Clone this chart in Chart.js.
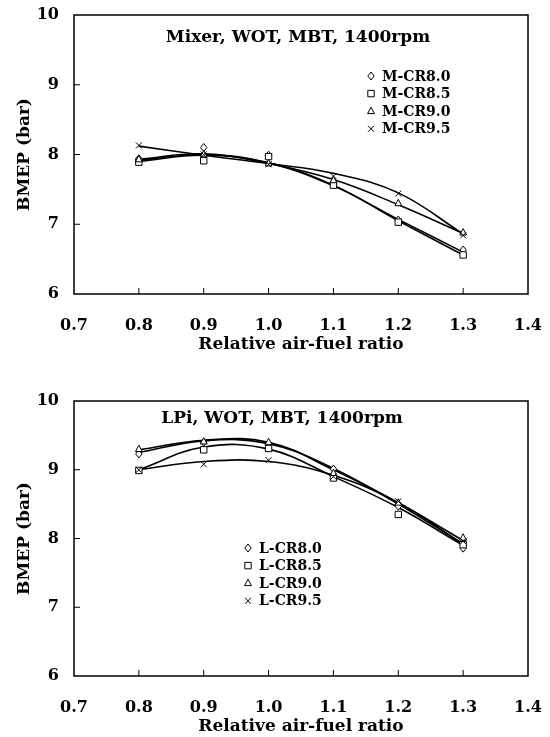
<!DOCTYPE html>
<html>
<head>
<meta charset="utf-8">
<script src="https://cdn.jsdelivr.net/npm/chart.js@4.4.0/dist/chart.umd.min.js"></script>
<style>
  html, body { margin: 0; padding: 0; background: #fff; }
  .box { position: relative; width: 550px; }
</style>
</head>
<body>
<div class="box" style="height:360px"><canvas id="grafico-mixer"></canvas></div>
<div class="box" style="height:377px"><canvas id="grafico-lpi"></canvas></div>
<script>
// eje x: relative air-fuel ratio
const lambda = [0.8, 0.9, 1.0, 1.1, 1.2, 1.3];
const xTicks = [0.7, 0.8, 0.9, 1.0, 1.1, 1.2, 1.3, 1.4];
const yTicks = [6, 7, 8, 9, 10];

// Mixer - puntos medidos
const mixerNombres = ["M-CR8.0", "M-CR8.5", "M-CR9.0", "M-CR9.5"];
const mCR80 = [7.94, 8.10, 7.99, 7.58, 7.06, 6.63];
const mCR85 = [7.89, 7.91, 7.97, 7.56, 7.03, 6.56];
const mCR90 = [7.93, 8.00, 7.87, 7.63, 7.30, 6.88];
const mCR95 = [8.13, 8.00, 7.86, 7.69, 7.44, 6.84];
// Mixer - curvas de tendencia
const mFit80 = [7.92, 8.00, 7.88, 7.55, 7.07, 6.60];
const mFit85 = [7.90, 7.99, 7.88, 7.56, 7.05, 6.56];
const mFit90 = [7.93, 8.01, 7.87, 7.64, 7.28, 6.87];
const mFit95 = [8.12, 7.99, 7.87, 7.73, 7.45, 6.86];

// LPi - puntos medidos
const lpiNombres = ["L-CR8.0", "L-CR8.5", "L-CR9.0", "L-CR9.5"];
const lCR80 = [9.23, 9.40, 9.37, 9.01, 8.47, 7.86];
const lCR85 = [8.99, 9.29, 9.31, 8.88, 8.35, 7.91];
const lCR90 = [9.30, 9.41, 9.40, 8.95, 8.52, 8.01];
const lCR95 = [9.00, 9.08, 9.14, 8.90, 8.54, 7.96];
// LPi - curvas de tendencia
const lFit80 = [9.25, 9.42, 9.38, 9.02, 8.50, 7.92];
const lFit85 = [9.00, 9.33, 9.30, 8.90, 8.45, 7.90];
const lFit90 = [9.29, 9.43, 9.40, 9.00, 8.52, 7.97];
const lFit95 = [9.00, 9.12, 9.12, 8.92, 8.52, 7.92];

const estilos = ["rectRot", "rect", "triangle", "crossRot"];
const FUENTE = "'DejaVu Serif', 'Liberation Serif', serif";

function puntos(ys) {
    return lambda.map((x, i) => ({ x: x, y: ys[i] }));
}

// dibuja un marcador hueco
function marcador(ctx, estilo, x, y, r) {
    ctx.save();
    ctx.strokeStyle = "#000";
    ctx.fillStyle = "#fff";
    ctx.lineWidth = 1;
    ctx.beginPath();
    if (estilo === "rectRot") {
        ctx.moveTo(x, y - r); ctx.lineTo(x + r * 0.8, y); ctx.lineTo(x, y + r); ctx.lineTo(x - r * 0.8, y); ctx.closePath();
        ctx.fill(); ctx.stroke();
    } else if (estilo === "rect") {
        ctx.rect(x - r * 0.8, y - r * 0.8, r * 1.6, r * 1.6);
        ctx.fill(); ctx.stroke();
    } else if (estilo === "triangle") {
        ctx.moveTo(x, y - r); ctx.lineTo(x + r * 0.85, y + r * 0.6); ctx.lineTo(x - r * 0.85, y + r * 0.6); ctx.closePath();
        ctx.fill(); ctx.stroke();
    } else {
        const d = r * 0.75;
        ctx.moveTo(x - d, y - d); ctx.lineTo(x + d, y + d);
        ctx.moveTo(x + d, y - d); ctx.lineTo(x - d, y + d);
        ctx.stroke();
    }
    ctx.restore();
}

// marco, marcas interiores, titulo y leyenda
const decorado = {
    id: "decorado",
    afterDatasetsDraw(chart, args, opts) {
        const { ctx, chartArea: a, scales } = chart;
        ctx.save();
        ctx.strokeStyle = "#000";
        ctx.lineWidth = 1.5;
        ctx.strokeRect(a.left, a.top, a.right - a.left, a.bottom - a.top);
        ctx.lineWidth = 1;
        ctx.beginPath();
        lambda.forEach(v => {
            const px = scales.x.getPixelForValue(v);
            ctx.moveTo(px, a.bottom); ctx.lineTo(px, a.bottom - 6);
        });
        yTicks.slice(1, -1).forEach(v => {
            const py = scales.y.getPixelForValue(v);
            ctx.moveTo(a.left, py); ctx.lineTo(a.left + 6, py);
        });
        ctx.stroke();

        ctx.fillStyle = "#000";
        ctx.font = "bold 17px " + FUENTE;
        ctx.textAlign = "center";
        ctx.textBaseline = "middle";
        ctx.fillText(opts.titulo, opts.tituloX, opts.tituloY);

        ctx.font = "bold 14px " + FUENTE;
        ctx.textAlign = "left";
        opts.nombres.forEach((n, i) => {
            const y = opts.leyendaY + i * 17.6;
            marcador(ctx, estilos[i], opts.leyendaX, y, 4);
            ctx.fillText(n, opts.leyendaX + 11, y + 1);
        });
        ctx.restore();
    }
};

function crearGrafico(id, nombres, medidos, curvas, deco, alto, arriba, pieTitulo) {
    const datasets = [];
    curvas.forEach(c => {
        datasets.push({
            data: puntos(c),
            showLine: true,
            borderColor: "#000",
            borderWidth: 1.6,
            pointRadius: 0,
            tension: 0.4
        });
    });
    medidos.forEach((m, i) => {
        datasets.push({
            label: nombres[i],
            data: puntos(m),
            showLine: false,
            pointStyle: false,
            pointRadius: 0
        });
    });

    const marcas = {
        id: "marcas",
        afterDatasetsDraw(chart) {
            const ctx = chart.ctx;
            medidos.forEach((m, i) => {
                const meta = chart.getDatasetMeta(curvas.length + i);
                meta.data.forEach(p => marcador(ctx, estilos[i], p.x, p.y, 4));
            });
        }
    };

    new Chart(document.getElementById(id), {
        type: "scatter",
        data: { datasets: datasets },
        options: {
            responsive: true,
            maintainAspectRatio: false,
            animation: false,
            layout: { padding: { left: 0, right: 22, top: arriba, bottom: 0 } },
            plugins: {
                legend: { display: false },
                tooltip: { enabled: false },
                decorado: Object.assign({ nombres: nombres }, deco)
            },
            scales: {
                x: {
                    type: "linear",
                    min: 0.7,
                    max: 1.4,
                    afterFit: s => { s.height = alto; s.paddingRight = 0; s.paddingLeft = 0; },
                    afterBuildTicks: s => { s.ticks = xTicks.map(v => ({ value: v })); },
                    grid: { display: false, drawTicks: false },
                    border: { display: false },
                    ticks: {
                        color: "#000",
                        padding: 22,
                        font: { family: FUENTE, size: 16, weight: "bold" },
                        callback: v => v.toFixed(1)
                    },
                    title: {
                        display: true,
                        text: "Relative air-fuel ratio",
                        color: "#000",
                        padding: { top: 0, bottom: pieTitulo },
                        font: { family: FUENTE, size: 17, weight: "bold" }
                    }
                },
                y: {
                    min: 6,
                    max: 10,
                    afterFit: s => { s.width = 74; s.paddingTop = 0; s.paddingBottom = 0; },
                    afterBuildTicks: s => { s.ticks = yTicks.map(v => ({ value: v })); },
                    grid: { display: false, drawTicks: false },
                    border: { display: false },
                    ticks: {
                        color: "#000",
                        padding: 15,
                        font: { family: FUENTE, size: 16, weight: "bold" }
                    },
                    title: {
                        display: true,
                        text: "BMEP (bar)",
                        color: "#000",
                        padding: { top: 14, bottom: 0 },
                        font: { family: FUENTE, size: 17, weight: "bold" }
                    }
                }
            }
        },
        plugins: [decorado, marcas]
    });
}

crearGrafico("grafico-mixer", mixerNombres,
    [mCR80, mCR85, mCR90, mCR95], [mFit80, mFit85, mFit90, mFit95],
    { titulo: "Mixer, WOT, MBT, 1400rpm", tituloX: 298, tituloY: 38, leyendaX: 371, leyendaY: 76 },
    66, 15, 5);

crearGrafico("grafico-lpi", lpiNombres,
    [lCR80, lCR85, lCR90, lCR95], [lFit80, lFit85, lFit90, lFit95],
    { titulo: "LPi, WOT, MBT, 1400rpm", tituloX: 282, tituloY: 59, leyendaX: 248, leyendaY: 188 },
    61, 41, 0);
</script>
</body>
</html>
